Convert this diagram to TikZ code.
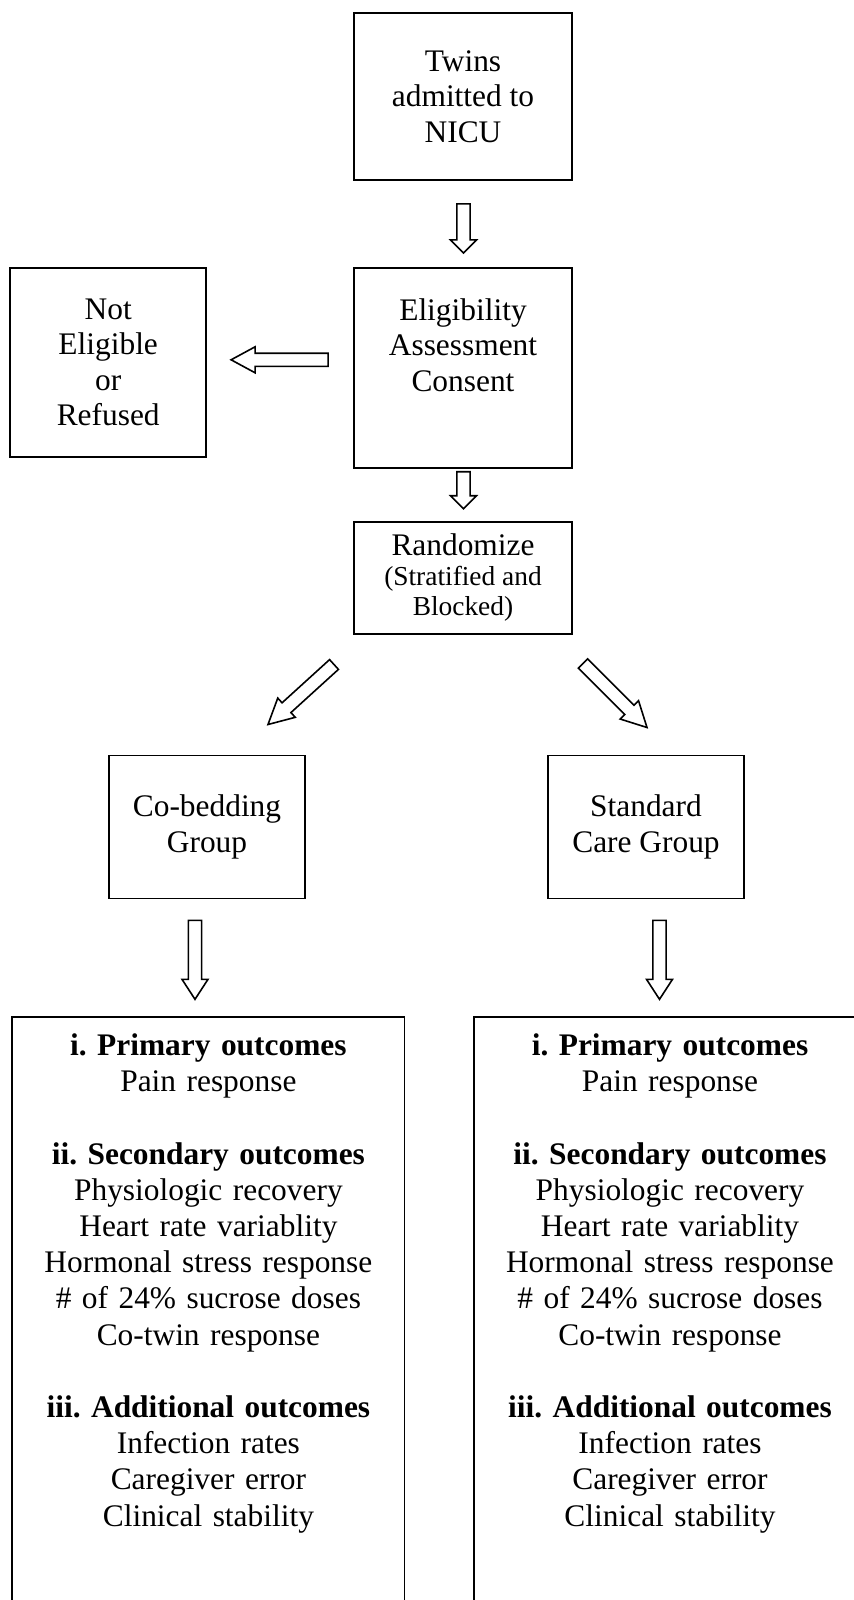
\documentclass[tikz,border=0pt]{standalone}
\usepackage{fontspec}
\setmainfont{Liberation Serif}
\usetikzlibrary{positioning,calc}
\newcommand{\hollowarrow}[3][6.5pt]{%
  \coordinate (hb) at ($(#3)!#1!(#2)$);
  \draw[blockarr] ($(#2)!3.3pt!90:(#3)$) -- ($(hb)!3.3pt!90:(#3)$) -- ($(hb)!6.5pt!90:(#3)$) -- (#3)
    -- ($(hb)!6.5pt!-90:(#3)$) -- ($(hb)!3.3pt!-90:(#3)$) -- ($(#2)!3.3pt!-90:(#3)$) -- cycle;}
\frenchspacing

\begin{document}
\begin{tikzpicture}[x=0.5pt, y=0.5pt,
  box/.style={draw, line width=0.9pt, align=center, inner sep=0pt, minimum width=109pt, font=\fontsize{15.7}{17.7}\selectfont},
  grpbox/.style={box, minimum width=98pt},
  outbox/.style={align=center, text width=187.7pt, inner xsep=4pt, inner ysep=8pt, font=\fontsize{15.7}{18.1}\selectfont},
  blockarr/.style={draw, line width=0.8pt, fill=white, line join=miter}]
\clip (0,0) rectangle (854,-1600);
\node[box, minimum height=83.5pt] (twins) at (463,-96.5) {Twins\\admitted to\\NICU};
\node[box, minimum height=100pt, below=43pt of twins] (elig) {Eligibility\\Assessment\\Consent\\\strut};
\node[grpbox, minimum height=94.5pt, left=73pt of elig.north west, anchor=north east] (noteli) {Not\\Eligible\\or\\Refused};
\node[box, minimum height=56pt, below=26pt of elig, font=\fontsize{13.7}{14.8}\selectfont] (random) {{\fontsize{15.7}{17.7}\selectfont Randomize}\\(Stratified and\\Blocked)};
\node[grpbox, minimum height=71.5pt, below=60pt of random, xshift=-128pt] (cobed) {Co-bedding\\Group};
\node[grpbox, minimum height=71.5pt, below=60pt of random, xshift=91.5pt] (stdcare) {Standard\\Care Group};
\node[outbox, below=59pt of cobed, xshift=0.7pt] (outL) {\textbf{i. Primary outcomes}\\Pain response\\[18.1pt]
  \textbf{ii. Secondary outcomes}\\Physiologic recovery\\Heart rate variablity\\Hormonal stress response\\\# of 24\% sucrose doses\\Co-twin response\\[18.1pt]
  \textbf{iii. Additional outcomes}\\Infection rates\\Caregiver error\\Clinical stability};
\node[outbox, below=59pt of stdcare, xshift=12pt] (outR) {\textbf{i. Primary outcomes}\\Pain response\\[18.1pt]
  \textbf{ii. Secondary outcomes}\\Physiologic recovery\\Heart rate variablity\\Hormonal stress response\\\# of 24\% sucrose doses\\Co-twin response\\[18.1pt]
  \textbf{iii. Additional outcomes}\\Infection rates\\Caregiver error\\Clinical stability};
% open bottom of the outcome boxes
\draw[line width=0.9pt] ([yshift=-200pt]outL.south west) |- (outL.north east) -- ++(0,-700);
\draw[line width=0.9pt] ([yshift=-200pt]outR.south west) |- (outR.north east) -- ++(0,-700);
% arrow ends
\coordinate (a1s) at ($(twins.south)+(0.5,-23)$); \coordinate (a1e) at ($(elig.north)+(0.5,14)$);
\coordinate (a2s) at ($(elig.south)+(0.5,-3)$); \coordinate (a2e) at ($(random.north)+(0.5,12)$);
\coordinate (a3s) at ($(elig.west)+(-25,8)$); \coordinate (a3e) at ($(noteli.east)+(24,2.5)$);
\coordinate (a4s) at ($(random.south)+(-129,-30)$); \coordinate (a4e) at ($(cobed.north)+(61,30)$);
\coordinate (a5s) at ($(random.south)+(120,-29)$); \coordinate (a5e) at ($(stdcare.north)+(1,27)$);
\coordinate (a6s) at ($(cobed.south)+(-12,-21)$); \coordinate (a6e) at ($(outL.north)+(-13.4,18)$);
\coordinate (a7s) at ($(stdcare.south)+(13.5,-21)$); \coordinate (a7e) at ($(outR.north)+(-10.5,18)$);
\hollowarrow{a1s}{a1e} \hollowarrow{a2s}{a2e}
\hollowarrow[12pt]{a3s}{a3e}
\hollowarrow[12.5pt]{a4s}{a4e} \hollowarrow[12.5pt]{a5s}{a5e}
\hollowarrow[10pt]{a6s}{a6e} \hollowarrow[10pt]{a7s}{a7e}
\end{tikzpicture}
\end{document}
